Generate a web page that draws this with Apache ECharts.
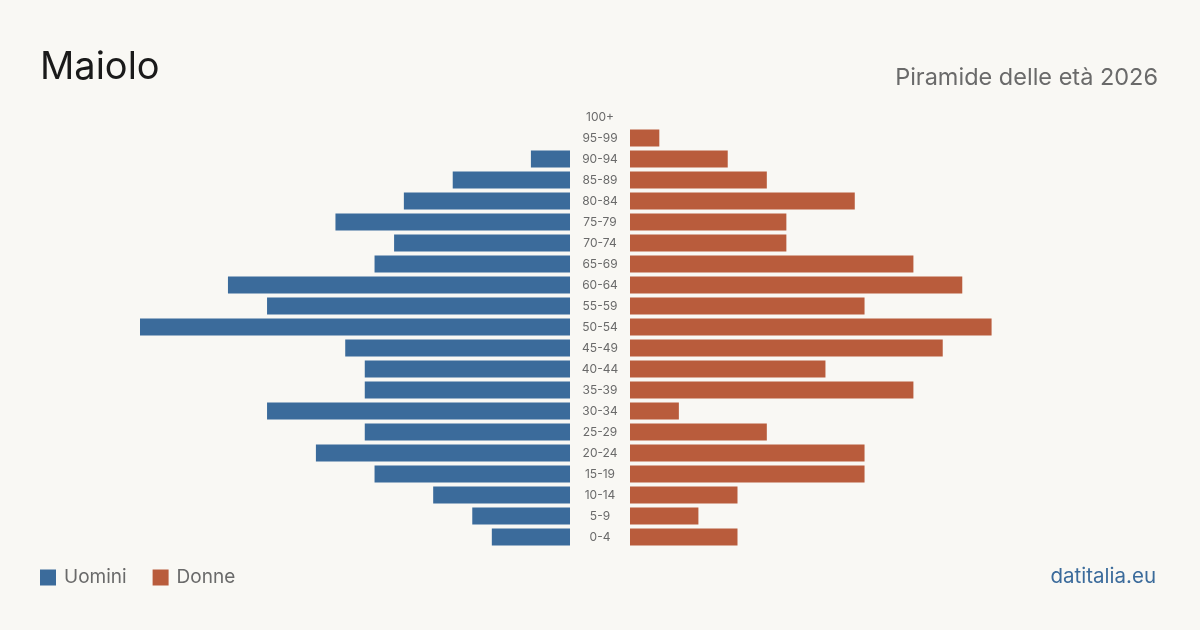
<!DOCTYPE html>
<html>
<head>
<meta charset="utf-8">
<script src="https://cdn.jsdelivr.net/npm/echarts@6/dist/echarts.min.js"></script>
<style>
  html, body { margin: 0; padding: 0; background: #f9f8f4; }
  #chart { width: 1200px; height: 630px; }
</style>
</head>
<body>
<div id="chart"></div>
<script>
var ageGroups = ['100+', '95-99', '90-94', '85-89', '80-84', '75-79', '70-74', '65-69', '60-64', '55-59',
    '50-54', '45-49', '40-44', '35-39', '30-34', '25-29', '20-24', '15-19', '10-14', '5-9', '0-4'];
var men = [0, 0, 4, 12, 17, 24, 18, 20, 35, 31, 44, 23, 21, 21, 31, 21, 26, 20, 14, 10, 8];
var women = [0, 3, 10, 14, 23, 16, 16, 29, 34, 24, 37, 32, 20, 29, 5, 14, 24, 24, 11, 7, 11];
var maxVal = 44;

var font = 'Inter, "Noto Sans", sans-serif';
var blue = '#3b6b9b';
var orange = '#b95c3c';

var chart = echarts.init(document.getElementById('chart'));

var option = {
    backgroundColor: '#f9f8f4',
    animation: false,
    textStyle: { fontFamily: font },
    title: [{
        text: 'Maiolo',
        left: 40,
        top: 49,
        padding: 0,
        textStyle: { fontSize: 38, fontWeight: 'normal', color: '#1a1a1a', fontFamily: font }
    }, {
        text: 'Piramide delle età 2026',
        right: 42,
        top: 66,
        padding: 0,
        textStyle: { fontSize: 23.5, fontWeight: 'normal', color: '#6a6a6a', fontFamily: font }
    }, {
        text: 'datitalia.eu',
        right: 44,
        top: 566,
        padding: 0,
        textStyle: { fontSize: 20.5, fontWeight: 'normal', color: '#3b6b9b', fontFamily: font }
    }],
    legend: {
        left: 40,
        top: 568,
        padding: 0,
        icon: 'rect',
        itemWidth: 16,
        itemHeight: 16,
        itemGap: 26,
        textStyle: { fontSize: 19, color: '#6a6a6a', fontFamily: font, padding: [0, 0, 0, 3] },
        data: ['Uomini', 'Donne']
    },
    grid: [
        { left: 140, right: 630, top: 106.5, height: 441 },
        { left: 630, right: 140, top: 106.5, height: 441 }
    ],
    xAxis: [
        { gridIndex: 0, type: 'value', min: 0, max: maxVal, inverse: true, show: false },
        { gridIndex: 1, type: 'value', min: 0, max: maxVal, show: false }
    ],
    yAxis: [
        {
            gridIndex: 0, type: 'category', data: ageGroups, inverse: true,
            axisLine: { show: false }, axisTick: { show: false }, axisLabel: { show: false }
        },
        {
            gridIndex: 1, type: 'category', data: ageGroups, inverse: true,
            axisLine: { show: false }, axisTick: { show: false },
            axisLabel: { show: true, align: 'center', margin: 30, fontSize: 12, color: '#6a6a6a', fontFamily: font }
        }
    ],
    series: [
        {
            name: 'Uomini', type: 'bar', xAxisIndex: 0, yAxisIndex: 0,
            data: men, barWidth: 17, itemStyle: { color: blue }
        },
        {
            name: 'Donne', type: 'bar', xAxisIndex: 1, yAxisIndex: 1,
            data: women, barWidth: 17, itemStyle: { color: orange }
        }
    ]
};

chart.setOption(option);
</script>
</body>
</html>
